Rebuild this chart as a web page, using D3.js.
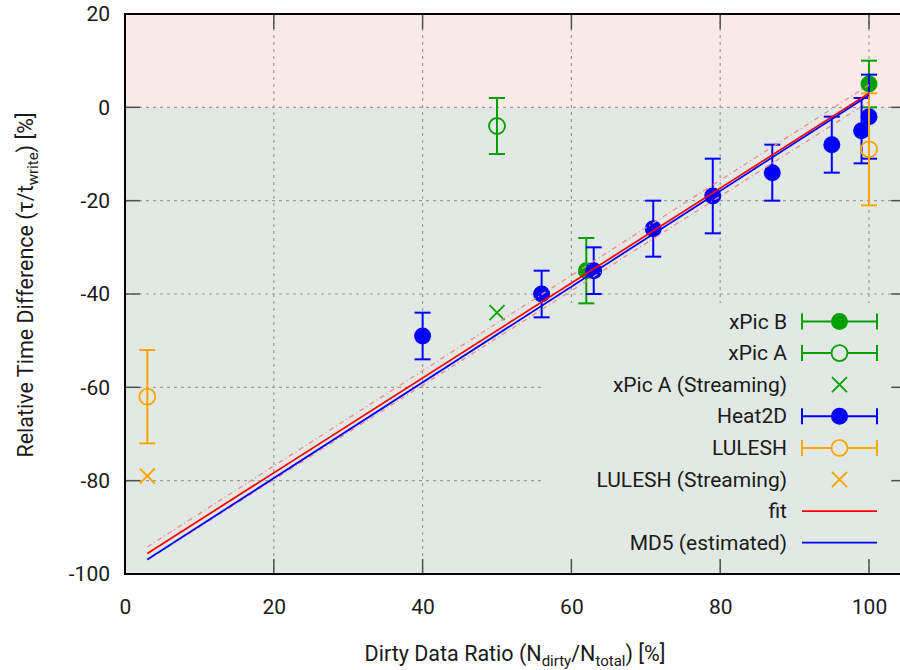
<!DOCTYPE html>
<html><head><meta charset="utf-8">
<script src="https://cdn.jsdelivr.net/npm/d3@7"></script>
<style>
html,body{margin:0;padding:0;background:#fff;overflow:hidden}
text{font-family:Roboto,"DejaVu Sans",sans-serif;fill:#1a1a1a}
</style></head>
<body>
<svg id="chart" width="900" height="670"></svg>
<script>
// ---- data ----
const xTicks = [0, 20, 40, 60, 80, 100];
const yTicks = [-100, -80, -60, -40, -20, 0, 20];

const xpicBX = [62, 100];
const xpicBY = [-35, 5];
const xpicBErr = [7, 5];

const xpicAX = [50];
const xpicAY = [-4];
const xpicAErr = [6];

const xpicAStreamX = [50];
const xpicAStreamY = [-44];

const heatX = [40, 56, 63, 71, 79, 87, 95, 99, 100];
const heatY = [-49, -40, -35, -26, -19, -14, -8, -5, -2];
const heatErr = [5, 5, 5, 6, 8, 6, 6, 7, 9];

const luleshX = [3, 100];
const luleshY = [-62, -9];
const luleshErr = [10, 12];

const luleshStreamX = [3];
const luleshStreamY = [-79];

const fitX = [3, 100];
const fitY = [-95.6, 3.0];
const fitUpperY = [-94.2, 4.8];
const fitLowerY = [-97.0, 1.2];
const md5X = [3, 100];
const md5Y = [-96.9, 2.6];

const legendLabels = ["xPic B", "xPic A", "xPic A (Streaming)", "Heat2D", "LULESH", "LULESH (Streaming)", "fit", "MD5 (estimated)"];

(function () {
// ---- colours ----
const GREEN = "#00a000", BLUE = "#0000ff", ORANGE = "#ffa500", RED = "#ff0000", PINK = "#f08a8a";
const FS = 21, SUB = 15;

const svg = d3.select("#chart");
const pLeft = 125, pTop = 14, pBottom = 574;
const x = d3.scaleLinear().domain([0, 105]).range([pLeft, pLeft + 105 * 7.44]);
const y = d3.scaleLinear().domain([-100, 20]).range([pBottom, pTop]);
const pRight = x(105);

// backgrounds
svg.append("rect").attr("x", pLeft).attr("y", y(20)).attr("width", pRight - pLeft).attr("height", y(0) - y(20)).attr("fill", "#f9eae8");
svg.append("rect").attr("x", pLeft).attr("y", y(0)).attr("width", pRight - pLeft).attr("height", y(-100) - y(0)).attr("fill", "#e2e9e4");

// grid
const grid = svg.append("g").attr("stroke", "#9a9a9a").attr("stroke-width", 1.2).attr("stroke-dasharray", "3,4");
grid.selectAll(".gx").data(xTicks.filter(d => d > 0)).join("line")
  .attr("x1", d => x(d)).attr("x2", d => x(d)).attr("y1", pTop).attr("y2", pBottom);
grid.selectAll(".gy").data(yTicks.filter(d => d > -100 && d < 20)).join("line")
  .attr("x1", pLeft).attr("x2", pRight).attr("y1", d => y(d)).attr("y2", d => y(d));

// opaque key box
const keyTop = 303, keyBottom = 558, keyLeft = 545;
svg.append("rect").attr("x", keyLeft).attr("y", keyTop).attr("width", pRight - keyLeft).attr("height", keyBottom - keyTop).attr("fill", "#e2e9e4");

// tick marks
const ticks = svg.append("g").attr("stroke", "#505050").attr("stroke-width", 1.5);
const TL = 15;
xTicks.forEach(d => {
  ticks.append("line").attr("x1", x(d)).attr("x2", x(d)).attr("y1", pBottom).attr("y2", pBottom - TL);
  ticks.append("line").attr("x1", x(d)).attr("x2", x(d)).attr("y1", pTop).attr("y2", pTop + TL);
});
yTicks.forEach(d => {
  ticks.append("line").attr("x1", pLeft).attr("x2", pLeft + TL).attr("y1", y(d)).attr("y2", y(d));
  ticks.append("line").attr("x1", pRight).attr("x2", pRight - TL).attr("y1", y(d)).attr("y2", y(d));
});

// tick labels
const fmt = d => String(d);
const xAxis = d3.axisBottom(x).tickValues(xTicks).tickFormat(fmt).tickSize(0).tickPadding(0);
const gx = svg.append("g").attr("transform", `translate(0,${pBottom})`).call(xAxis);
gx.select(".domain").remove();
gx.selectAll("text").attr("font-size", FS).attr("font-family", "Roboto").attr("fill", "#1a1a1a").attr("dy", null).attr("y", 40);
const yAxis = d3.axisLeft(y).tickValues(yTicks).tickFormat(fmt).tickSize(0).tickPadding(15);
const gy = svg.append("g").attr("transform", `translate(${pLeft},0)`).call(yAxis);
gy.select(".domain").remove();
gy.selectAll("text").attr("font-size", FS).attr("font-family", "Roboto").attr("fill", "#1a1a1a");

// helpers
function errorBars(g, xs, ys, es, color) {
  xs.forEach((xv, i) => {
    const cx = x(xv), y1 = y(ys[i] - es[i]), y2 = y(ys[i] + es[i]);
    g.append("line").attr("x1", cx).attr("x2", cx).attr("y1", y1).attr("y2", y2).attr("stroke", color).attr("stroke-width", 2);
    [y1, y2].forEach(yy => g.append("line").attr("x1", cx - 8).attr("x2", cx + 8).attr("y1", yy).attr("y2", yy).attr("stroke", color).attr("stroke-width", 2));
  });
}
function circles(g, xs, ys, color, filled) {
  g.selectAll(null).data(xs.map((d, i) => [d, ys[i]])).join("circle")
    .attr("cx", d => x(d[0])).attr("cy", d => y(d[1])).attr("r", filled ? 8.5 : 8)
    .attr("fill", filled ? color : "none").attr("stroke", color).attr("stroke-width", filled ? 0 : 1.8);
}
function crosses(g, xs, ys, color) {
  xs.forEach((xv, i) => {
    const cx = x(xv), cy = y(ys[i]), s = 7.5;
    g.append("path").attr("d", `M${cx - s},${cy - s}L${cx + s},${cy + s}M${cx - s},${cy + s}L${cx + s},${cy - s}`)
      .attr("stroke", color).attr("stroke-width", 1.8).attr("fill", "none");
  });
}

const plot = svg.append("g");
errorBars(plot, xpicBX, xpicBY, xpicBErr, GREEN);
circles(plot, xpicBX, xpicBY, GREEN, true);
errorBars(plot, xpicAX, xpicAY, xpicAErr, GREEN);
circles(plot, xpicAX, xpicAY, GREEN, false);
crosses(plot, xpicAStreamX, xpicAStreamY, GREEN);
errorBars(plot, heatX, heatY, heatErr, BLUE);
circles(plot, heatX, heatY, BLUE, true);
errorBars(plot, luleshX, luleshY, luleshErr, ORANGE);
circles(plot, luleshX, luleshY, ORANGE, false);
crosses(plot, luleshStreamX, luleshStreamY, ORANGE);

// lines
const line = d3.line().x(d => x(d[0])).y(d => y(d[1]));
const z = (xs, ys) => xs.map((d, i) => [d, ys[i]]);
plot.append("path").attr("d", line(z(fitX, fitUpperY))).attr("stroke", PINK).attr("stroke-width", 1.3).attr("stroke-dasharray", "5,3,1,3").attr("fill", "none");
plot.append("path").attr("d", line(z(fitX, fitLowerY))).attr("stroke", PINK).attr("stroke-width", 1.3).attr("stroke-dasharray", "5,3,1,3").attr("fill", "none");
plot.append("path").attr("d", line(z(fitX, fitY))).attr("stroke", RED).attr("stroke-width", 1.8).attr("fill", "none");
plot.append("path").attr("d", line(z(md5X, md5Y))).attr("stroke", BLUE).attr("stroke-width", 1.8).attr("fill", "none");

// legend
const lg = svg.append("g");
const rowY = i => 321.5 + i * 31.6;
const sx1 = 802, sx2 = 877, sxm = 839.5;
const legendStyles = [
  {c: GREEN, eb: true, m: "fill"}, {c: GREEN, eb: true, m: "open"}, {c: GREEN, eb: false, m: "x"},
  {c: BLUE, eb: true, m: "fill"}, {c: ORANGE, eb: true, m: "open"}, {c: ORANGE, eb: false, m: "x"},
  {c: RED, eb: false, m: "line"}, {c: BLUE, eb: false, m: "line"}
];
legendLabels.forEach((lab, i) => {
  const yy = rowY(i), st = legendStyles[i];
  lg.append("text").attr("x", 787).attr("y", yy).attr("text-anchor", "end").attr("dominant-baseline", "central").attr("font-size", FS).text(lab);
  if (st.eb) {
    lg.append("line").attr("x1", sx1).attr("x2", sx2).attr("y1", yy).attr("y2", yy).attr("stroke", st.c).attr("stroke-width", 2);
    [sx1, sx2].forEach(xx => lg.append("line").attr("x1", xx).attr("x2", xx).attr("y1", yy - 8).attr("y2", yy + 8).attr("stroke", st.c).attr("stroke-width", 2));
  }
  if (st.m === "fill") lg.append("circle").attr("cx", sxm).attr("cy", yy).attr("r", 8.5).attr("fill", st.c);
  if (st.m === "open") lg.append("circle").attr("cx", sxm).attr("cy", yy).attr("r", 8).attr("fill", "#e2e9e4").attr("stroke", st.c).attr("stroke-width", 1.8);
  if (st.m === "x") lg.append("path").attr("d", `M${sxm - 7.5},${yy - 7.5}L${sxm + 7.5},${yy + 7.5}M${sxm - 7.5},${yy + 7.5}L${sxm + 7.5},${yy - 7.5}`).attr("stroke", st.c).attr("stroke-width", 1.8);
  if (st.m === "line") lg.append("line").attr("x1", sx1).attr("x2", sx2).attr("y1", yy).attr("y2", yy).attr("stroke", st.c).attr("stroke-width", 1.8);
});

// border
svg.append("path").attr("d", `M${pRight},${pTop}H${pLeft}V${pBottom}H${pRight}`).attr("stroke", "#000").attr("stroke-width", 2).attr("fill", "none");

// axis labels
const xl = svg.append("text").attr("x", 515).attr("y", 661).attr("text-anchor", "middle").attr("font-size", 21.5);
xl.append("tspan").text("Dirty Data Ratio (N");
xl.append("tspan").attr("font-size", SUB).attr("dy", 5).text("dirty");
xl.append("tspan").attr("dy", -5).text("/N");
xl.append("tspan").attr("font-size", SUB).attr("dy", 5).text("total");
xl.append("tspan").attr("dy", -5).text(") [%]");

const yl = svg.append("text").attr("transform", "translate(33,285) rotate(-90)").attr("text-anchor", "middle").attr("font-size", 21.5);
yl.append("tspan").text("Relative Time Difference (τ/t");
yl.append("tspan").attr("font-size", SUB).attr("dy", 5).text("write");
yl.append("tspan").attr("dy", -5).text(") [%]");
})();
</script>
</body></html>
